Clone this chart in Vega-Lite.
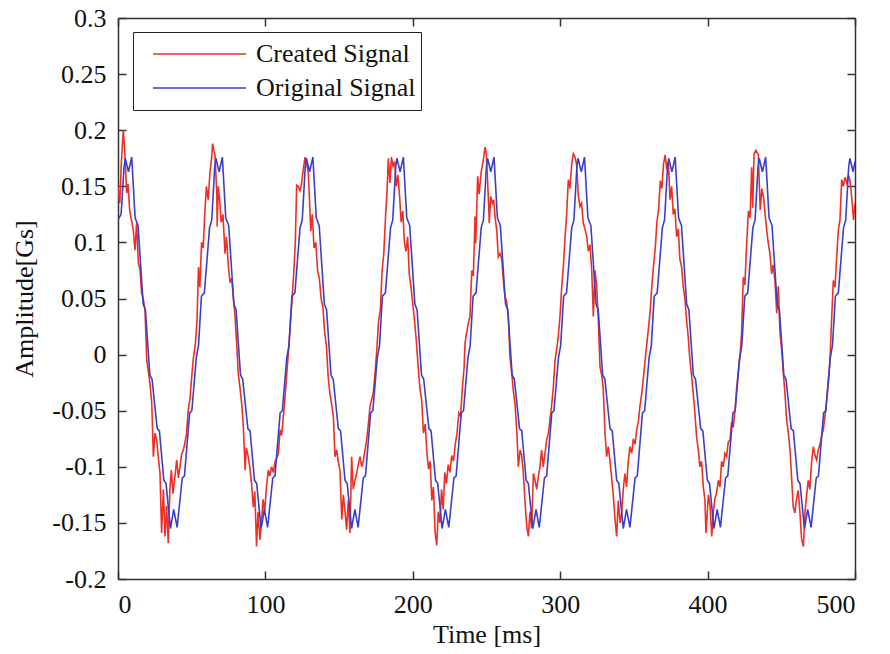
{
  "$schema": "https://vega.github.io/schema/vega-lite/v6.json",
  "autosize": "none",
  "padding": {"left": 118, "top": 18, "right": 35, "bottom": 75},
  "width": 737,
  "height": 561,
  "background": "white",
  "datasets": {
    "created": [
      {"t":0,"v":0.150},{"t":1.2,"v":0.135},{"t":2.3,"v":0.172},{"t":3.6,"v":0.200},{"t":4.7,"v":0.178},{"t":5.9,"v":0.144},{"t":6.8,"v":0.152},{"t":7.9,"v":0.129},{"t":9.1,"v":0.120},{"t":10.4,"v":0.111},{"t":11.5,"v":0.093},{"t":12.6,"v":0.117},{"t":13.8,"v":0.082},{"t":15.0,"v":0.075},{"t":16.0,"v":0.055},{"t":17.1,"v":0.050},{"t":18.3,"v":0.040},{"t":19.5,"v":-0.005},{"t":20.6,"v":-0.015},{"t":21.7,"v":-0.026},{"t":22.9,"v":-0.043},{"t":24.0,"v":-0.091},{"t":25.1,"v":-0.070},{"t":26.2,"v":-0.076},{"t":27.4,"v":-0.092},{"t":28.5,"v":-0.106},{"t":29.6,"v":-0.159},{"t":30.8,"v":-0.120},{"t":31.9,"v":-0.162},{"t":33.0,"v":-0.135},{"t":34.1,"v":-0.168},{"t":35.2,"v":-0.120},{"t":36.2,"v":-0.103},{"t":37.3,"v":-0.124},{"t":38.5,"v":-0.110},{"t":39.8,"v":-0.094},{"t":41.0,"v":-0.110},{"t":42.2,"v":-0.098},{"t":43.3,"v":-0.088},{"t":44.4,"v":-0.085},{"t":45.5,"v":-0.078},{"t":46.5,"v":-0.070},{"t":47.6,"v":-0.050},{"t":48.8,"v":-0.040},{"t":50.0,"v":-0.020},{"t":51.0,"v":-0.005},
      {"t":52.5,"v":0.010},{"t":53.6,"v":0.030},{"t":54.6,"v":0.078},{"t":55.5,"v":0.060},{"t":56.7,"v":0.100},{"t":57.8,"v":0.095},{"t":59.0,"v":0.129},{"t":60.0,"v":0.150},{"t":61.2,"v":0.138},{"t":62.4,"v":0.163},{"t":63.3,"v":0.172},{"t":64.2,"v":0.188},{"t":65.0,"v":0.182},{"t":65.8,"v":0.178},{"t":67.0,"v":0.144},{"t":67.3,"v":0.114},{"t":68.0,"v":0.150},{"t":68.8,"v":0.140},{"t":70.0,"v":0.118},{"t":71.2,"v":0.125},{"t":72.6,"v":0.090},{"t":73.6,"v":0.105},{"t":74.8,"v":0.080},{"t":76.0,"v":0.064},{"t":77.2,"v":0.068},{"t":78.3,"v":0.050},{"t":79.4,"v":0.034},{"t":80.5,"v":0.010},{"t":81.6,"v":-0.017},{"t":82.8,"v":-0.030},{"t":84.0,"v":-0.045},{"t":85.0,"v":-0.064},{"t":86.3,"v":-0.103},{"t":87.0,"v":-0.083},{"t":88.2,"v":-0.090},{"t":89.4,"v":-0.100},{"t":90.6,"v":-0.115},{"t":91.8,"v":-0.136},{"t":92.8,"v":-0.122},{"t":94.0,"v":-0.171},{"t":95.0,"v":-0.140},{"t":96.3,"v":-0.165},{"t":97.3,"v":-0.150},{"t":98.4,"v":-0.129},{"t":99.5,"v":-0.140},{"t":100.7,"v":-0.118},{"t":102.0,"v":-0.103},{"t":103.0,"v":-0.108},{"t":104.2,"v":-0.100},{"t":105.4,"v":-0.105},{"t":106.6,"v":-0.095},{"t":107.8,"v":-0.092},{"t":108.8,"v":-0.088},{"t":110.0,"v":-0.067},{"t":111.0,"v":-0.072},{"t":112.0,"v":-0.058},{"t":113.2,"v":-0.040},{"t":114.5,"v":-0.017},
      {"t":115.6,"v":0.002},{"t":116.8,"v":0.025},{"t":118.0,"v":0.048},{"t":119.2,"v":0.072},{"t":120.3,"v":0.100},{"t":121.2,"v":0.151},{"t":122.3,"v":0.150},{"t":123.4,"v":0.146},{"t":124.5,"v":0.152},{"t":125.7,"v":0.165},{"t":126.9,"v":0.176},{"t":128.0,"v":0.170},{"t":129.1,"v":0.162},{"t":130.0,"v":0.135},{"t":130.8,"v":0.110},{"t":131.8,"v":0.125},{"t":133.0,"v":0.095},{"t":134.2,"v":0.100},{"t":135.4,"v":0.075},{"t":136.6,"v":0.068},{"t":137.8,"v":0.050},{"t":139.0,"v":0.042},{"t":140.2,"v":0.020},{"t":141.4,"v":0.008},{"t":142.6,"v":-0.020},{"t":143.8,"v":-0.035},{"t":145.0,"v":-0.045},{"t":146.1,"v":-0.055},{"t":147.2,"v":-0.091},{"t":148.4,"v":-0.085},{"t":149.5,"v":-0.096},{"t":150.6,"v":-0.103},{"t":151.8,"v":-0.147},{"t":152.9,"v":-0.125},{"t":154.0,"v":-0.140},{"t":155.1,"v":-0.156},{"t":156.2,"v":-0.130},{"t":157.4,"v":-0.159},{"t":158.5,"v":-0.091},{"t":159.6,"v":-0.120},{"t":160.8,"v":-0.112},{"t":161.9,"v":-0.106},{"t":163.0,"v":-0.098},{"t":164.2,"v":-0.091},{"t":165.3,"v":-0.100},{"t":166.4,"v":-0.095},{"t":167.6,"v":-0.085},{"t":168.7,"v":-0.076},{"t":170.0,"v":-0.060},{"t":171.0,"v":-0.046},{"t":172.1,"v":-0.040},{"t":173.2,"v":-0.034},{"t":174.5,"v":-0.015},
      {"t":175.6,"v":0.005},{"t":176.8,"v":0.030},{"t":178.0,"v":0.040},{"t":179.2,"v":0.075},{"t":180.3,"v":0.090},{"t":181.4,"v":0.120},{"t":182.5,"v":0.145},{"t":183.4,"v":0.175},{"t":184.5,"v":0.153},{"t":185.5,"v":0.176},{"t":186.6,"v":0.168},{"t":187.7,"v":0.172},{"t":188.8,"v":0.150},{"t":189.9,"v":0.160},{"t":191.0,"v":0.142},{"t":192.1,"v":0.118},{"t":193.2,"v":0.128},{"t":194.3,"v":0.100},{"t":195.4,"v":0.092},{"t":196.5,"v":0.105},{"t":197.6,"v":0.072},{"t":198.8,"v":0.060},{"t":200.0,"v":0.045},{"t":201.2,"v":0.030},{"t":202.4,"v":0.012},{"t":203.6,"v":-0.010},{"t":204.8,"v":-0.030},{"t":206.0,"v":-0.040},{"t":207.2,"v":-0.070},{"t":208.4,"v":-0.062},{"t":209.6,"v":-0.088},{"t":210.7,"v":-0.102},{"t":211.8,"v":-0.095},{"t":212.9,"v":-0.130},{"t":214.0,"v":-0.118},{"t":215.1,"v":-0.158},{"t":216.2,"v":-0.170},{"t":217.3,"v":-0.140},{"t":218.4,"v":-0.150},{"t":219.5,"v":-0.120},{"t":220.6,"v":-0.138},{"t":221.7,"v":-0.105},{"t":222.8,"v":-0.115},{"t":224.0,"v":-0.098},{"t":225.2,"v":-0.105},{"t":226.4,"v":-0.090},{"t":227.6,"v":-0.095},{"t":228.8,"v":-0.080},{"t":230.0,"v":-0.070},{"t":231.2,"v":-0.052},{"t":232.4,"v":-0.055},{"t":233.6,"v":-0.030},{"t":234.8,"v":-0.012},
      {"t":235.4,"v":0.010},{"t":236.6,"v":0.020},{"t":237.7,"v":0.028},{"t":238.8,"v":0.034},{"t":240.0,"v":0.075},{"t":241.1,"v":0.070},{"t":242.2,"v":0.123},{"t":242.7,"v":0.099},{"t":243.3,"v":0.126},{"t":244.0,"v":0.159},{"t":245.0,"v":0.143},{"t":246.3,"v":0.162},{"t":247.8,"v":0.173},{"t":249.0,"v":0.185},{"t":249.9,"v":0.179},{"t":251.2,"v":0.141},{"t":251.9,"v":0.117},{"t":252.8,"v":0.141},{"t":254.0,"v":0.135},{"t":254.9,"v":0.138},{"t":255.8,"v":0.123},{"t":257.0,"v":0.110},{"t":258.0,"v":0.087},{"t":259.2,"v":0.090},{"t":260.4,"v":0.085},{"t":261.5,"v":0.065},{"t":262.5,"v":0.052},{"t":263.6,"v":0.048},{"t":264.8,"v":0.034},{"t":265.9,"v":-0.002},{"t":267.0,"v":-0.015},{"t":268.2,"v":-0.032},{"t":269.4,"v":-0.045},{"t":270.5,"v":-0.067},{"t":271.6,"v":-0.100},{"t":272.8,"v":-0.085},{"t":273.9,"v":-0.090},{"t":275.0,"v":-0.106},{"t":276.1,"v":-0.130},{"t":277.3,"v":-0.153},{"t":278.4,"v":-0.162},{"t":279.5,"v":-0.140},{"t":280.6,"v":-0.155},{"t":281.8,"v":-0.106},{"t":282.9,"v":-0.112},{"t":284.1,"v":-0.120},{"t":285.2,"v":-0.108},{"t":286.3,"v":-0.100},{"t":287.4,"v":-0.085},{"t":288.5,"v":-0.100},{"t":289.7,"v":-0.088},{"t":290.8,"v":-0.076},{"t":292.0,"v":-0.070},{"t":293.1,"v":-0.058},{"t":294.2,"v":-0.045},{"t":295.3,"v":-0.030},{"t":296.5,"v":-0.005},
      {"t":297.6,"v":0.005},{"t":298.7,"v":0.016},{"t":299.9,"v":0.035},{"t":301.0,"v":0.060},{"t":302.2,"v":0.080},{"t":303.3,"v":0.105},{"t":304.4,"v":0.125},{"t":305.5,"v":0.156},{"t":306.6,"v":0.148},{"t":307.8,"v":0.170},{"t":308.9,"v":0.179},{"t":310.0,"v":0.176},{"t":311.1,"v":0.170},{"t":312.3,"v":0.141},{"t":313.4,"v":0.132},{"t":314.5,"v":0.135},{"t":315.7,"v":0.117},{"t":316.8,"v":0.112},{"t":318.0,"v":0.105},{"t":319.1,"v":0.092},{"t":320.2,"v":0.098},{"t":321.4,"v":0.075},{"t":322.5,"v":0.034},{"t":323.6,"v":0.075},{"t":324.7,"v":0.062},{"t":325.9,"v":0.030},{"t":327.0,"v":-0.011},{"t":328.1,"v":-0.018},{"t":329.2,"v":-0.030},{"t":330.4,"v":-0.070},{"t":331.5,"v":-0.091},{"t":332.6,"v":-0.082},{"t":333.8,"v":-0.095},{"t":334.9,"v":-0.110},{"t":336.0,"v":-0.125},{"t":337.2,"v":-0.147},{"t":338.3,"v":-0.162},{"t":339.4,"v":-0.130},{"t":340.6,"v":-0.150},{"t":341.7,"v":-0.141},{"t":342.8,"v":-0.120},{"t":343.9,"v":-0.106},{"t":345.0,"v":-0.118},{"t":346.2,"v":-0.095},{"t":347.3,"v":-0.082},{"t":348.5,"v":-0.088},{"t":349.6,"v":-0.075},{"t":350.8,"v":-0.080},{"t":351.9,"v":-0.067},{"t":353.0,"v":-0.060},{"t":354.2,"v":-0.045},{"t":355.3,"v":-0.035},{"t":356.5,"v":-0.020},{"t":357.6,"v":-0.005},
      {"t":358.8,"v":0.010},{"t":360.0,"v":0.025},{"t":361.1,"v":0.040},{"t":362.2,"v":0.062},{"t":363.4,"v":0.080},{"t":364.5,"v":0.095},{"t":365.6,"v":0.118},{"t":366.8,"v":0.130},{"t":367.9,"v":0.155},{"t":369.0,"v":0.148},{"t":370.1,"v":0.170},{"t":371.2,"v":0.178},{"t":372.3,"v":0.165},{"t":373.4,"v":0.172},{"t":374.5,"v":0.138},{"t":375.6,"v":0.150},{"t":376.7,"v":0.125},{"t":377.8,"v":0.130},{"t":379.0,"v":0.105},{"t":380.1,"v":0.112},{"t":381.2,"v":0.085},{"t":382.4,"v":0.078},{"t":383.5,"v":0.060},{"t":384.6,"v":0.050},{"t":385.8,"v":0.030},{"t":386.9,"v":0.015},{"t":388.0,"v":-0.005},{"t":389.2,"v":-0.020},{"t":390.3,"v":-0.035},{"t":391.4,"v":-0.052},{"t":392.5,"v":-0.073},{"t":393.7,"v":-0.085},{"t":394.8,"v":-0.100},{"t":395.9,"v":-0.095},{"t":397.1,"v":-0.118},{"t":398.2,"v":-0.130},{"t":398.9,"v":-0.159},{"t":399.4,"v":-0.150},{"t":400.5,"v":-0.125},{"t":401.7,"v":-0.135},{"t":402.8,"v":-0.162},{"t":403.9,"v":-0.140},{"t":405.0,"v":-0.128},{"t":406.0,"v":-0.124},{"t":407.3,"v":-0.112},{"t":408.4,"v":-0.118},{"t":409.5,"v":-0.095},{"t":410.6,"v":-0.100},{"t":411.7,"v":-0.088},{"t":412.9,"v":-0.091},{"t":414.0,"v":-0.078},{"t":415.2,"v":-0.076},{"t":416.3,"v":-0.060},{"t":417.4,"v":-0.065},{"t":418.6,"v":-0.050},{"t":419.7,"v":-0.030},{"t":420.8,"v":-0.015},
      {"t":422.0,"v":-0.002},{"t":423.1,"v":0.020},{"t":424.2,"v":0.069},{"t":425.3,"v":0.062},{"t":426.5,"v":0.099},{"t":427.7,"v":0.128},{"t":428.8,"v":0.122},{"t":429.9,"v":0.167},{"t":430.6,"v":0.131},{"t":431.5,"v":0.179},{"t":432.8,"v":0.182},{"t":434.4,"v":0.178},{"t":435.7,"v":0.129},{"t":436.8,"v":0.148},{"t":438.0,"v":0.140},{"t":439.0,"v":0.125},{"t":440.1,"v":0.111},{"t":441.2,"v":0.099},{"t":442.3,"v":0.090},{"t":443.4,"v":0.072},{"t":444.5,"v":0.080},{"t":445.7,"v":0.066},{"t":446.9,"v":0.037},{"t":448.0,"v":0.061},{"t":449.1,"v":0.020},{"t":450.2,"v":0.005},{"t":451.3,"v":-0.015},{"t":452.5,"v":-0.035},{"t":453.6,"v":-0.058},{"t":454.8,"v":-0.070},{"t":455.9,"v":-0.085},{"t":457.0,"v":-0.110},{"t":458.1,"v":-0.136},{"t":459.2,"v":-0.141},{"t":460.4,"v":-0.128},{"t":461.5,"v":-0.121},{"t":462.6,"v":-0.140},{"t":463.8,"v":-0.165},{"t":465.0,"v":-0.171},{"t":466.1,"v":-0.140},{"t":467.2,"v":-0.125},{"t":468.3,"v":-0.112},{"t":469.4,"v":-0.120},{"t":470.6,"v":-0.095},{"t":471.7,"v":-0.082},{"t":472.9,"v":-0.090},{"t":474.0,"v":-0.094},{"t":475.1,"v":-0.085},{"t":476.3,"v":-0.080},{"t":477.4,"v":-0.072},{"t":478.5,"v":-0.067},{"t":479.6,"v":-0.055},{"t":480.8,"v":-0.040},{"t":481.9,"v":-0.025},{"t":483.0,"v":-0.005},
      {"t":484.1,"v":0.030},{"t":485.3,"v":0.066},{"t":486.4,"v":0.060},{"t":487.5,"v":0.085},{"t":488.7,"v":0.111},{"t":489.8,"v":0.120},{"t":491.0,"v":0.156},{"t":492.1,"v":0.150},{"t":493.2,"v":0.158},{"t":494.4,"v":0.153},{"t":495.5,"v":0.160},{"t":496.6,"v":0.155},{"t":497.8,"v":0.140},{"t":499.0,"v":0.120},{"t":500.0,"v":0.135}
    ],
    "original": [
      {"t":0,"v":0.120},{"t":2.1,"v":0.125},{"t":4.1,"v":0.167},{"t":4.9,"v":0.175},{"t":7.1,"v":0.163},{"t":9.3,"v":0.176},{"t":11.6,"v":0.122},{"t":13.6,"v":0.115},{"t":17.1,"v":0.045},{"t":18.6,"v":0.040},{"t":21.6,"v":-0.018},{"t":23.1,"v":-0.022},{"t":26.6,"v":-0.066},{"t":28.1,"v":-0.068},{"t":31.1,"v":-0.112},{"t":32.6,"v":-0.115},{"t":35.6,"v":-0.155},{"t":37.8,"v":-0.138},
      {"t":40.1,"v":-0.154},{"t":43.6,"v":-0.110},{"t":45.1,"v":-0.108},{"t":48.6,"v":-0.052},{"t":50.1,"v":-0.050},{"t":53.1,"v":-0.003},{"t":54.6,"v":0.008},{"t":56.6,"v":0.052},{"t":58.6,"v":0.055},{"t":62.1,"v":0.113},{"t":63.6,"v":0.120},{"t":65.6,"v":0.167},{"t":66.4,"v":0.175},{"t":68.6,"v":0.163},{"t":70.8,"v":0.176},{"t":73.1,"v":0.122},{"t":75.1,"v":0.115},{"t":78.6,"v":0.045},{"t":80.1,"v":0.040},{"t":83.1,"v":-0.018},{"t":84.6,"v":-0.022},{"t":88.1,"v":-0.066},{"t":89.6,"v":-0.068},{"t":92.6,"v":-0.112},{"t":94.1,"v":-0.115},{"t":97.1,"v":-0.155},{"t":99.3,"v":-0.138},
      {"t":101.5,"v":-0.154},{"t":105.0,"v":-0.110},{"t":106.5,"v":-0.108},{"t":110.0,"v":-0.052},{"t":111.5,"v":-0.050},{"t":114.5,"v":-0.003},{"t":116.0,"v":0.008},{"t":118.0,"v":0.052},{"t":120.0,"v":0.055},{"t":123.5,"v":0.113},{"t":125.0,"v":0.120},{"t":127.0,"v":0.167},{"t":127.8,"v":0.175},{"t":130.0,"v":0.163},{"t":132.2,"v":0.176},{"t":134.5,"v":0.122},{"t":136.5,"v":0.115},{"t":140.0,"v":0.045},{"t":141.5,"v":0.040},{"t":144.5,"v":-0.018},{"t":146.0,"v":-0.022},{"t":149.5,"v":-0.066},{"t":151.0,"v":-0.068},{"t":154.0,"v":-0.112},{"t":155.5,"v":-0.115},{"t":158.5,"v":-0.155},{"t":160.7,"v":-0.138},
      {"t":162.9,"v":-0.154},{"t":166.4,"v":-0.110},{"t":167.9,"v":-0.108},{"t":171.4,"v":-0.052},{"t":172.9,"v":-0.050},{"t":175.9,"v":-0.003},{"t":177.4,"v":0.008},{"t":179.4,"v":0.052},{"t":181.4,"v":0.055},{"t":184.9,"v":0.113},{"t":186.4,"v":0.120},{"t":188.4,"v":0.167},{"t":189.2,"v":0.175},{"t":191.4,"v":0.163},{"t":193.6,"v":0.176},{"t":195.9,"v":0.122},{"t":197.9,"v":0.115},{"t":201.4,"v":0.045},{"t":202.9,"v":0.040},{"t":205.9,"v":-0.018},{"t":207.4,"v":-0.022},{"t":210.9,"v":-0.066},{"t":212.4,"v":-0.068},{"t":215.4,"v":-0.112},{"t":216.9,"v":-0.115},{"t":219.9,"v":-0.155},{"t":222.1,"v":-0.138},
      {"t":224.4,"v":-0.154},{"t":227.9,"v":-0.110},{"t":229.4,"v":-0.108},{"t":232.9,"v":-0.052},{"t":234.4,"v":-0.050},{"t":237.4,"v":-0.003},{"t":238.9,"v":0.008},{"t":240.9,"v":0.052},{"t":242.9,"v":0.055},{"t":246.4,"v":0.113},{"t":247.9,"v":0.120},{"t":249.9,"v":0.167},{"t":250.7,"v":0.175},{"t":252.9,"v":0.163},{"t":255.1,"v":0.176},{"t":257.4,"v":0.122},{"t":259.4,"v":0.115},{"t":262.9,"v":0.045},{"t":264.4,"v":0.040},{"t":267.4,"v":-0.018},{"t":268.9,"v":-0.022},{"t":272.4,"v":-0.066},{"t":273.9,"v":-0.068},{"t":276.9,"v":-0.112},{"t":278.4,"v":-0.115},{"t":281.4,"v":-0.155},{"t":283.6,"v":-0.138},
      {"t":285.8,"v":-0.154},{"t":289.3,"v":-0.110},{"t":290.8,"v":-0.108},{"t":294.3,"v":-0.052},{"t":295.8,"v":-0.050},{"t":298.8,"v":-0.003},{"t":300.3,"v":0.008},{"t":302.3,"v":0.052},{"t":304.3,"v":0.055},{"t":307.8,"v":0.113},{"t":309.3,"v":0.120},{"t":311.3,"v":0.167},{"t":312.1,"v":0.175},{"t":314.3,"v":0.163},{"t":316.5,"v":0.176},{"t":318.8,"v":0.122},{"t":320.8,"v":0.115},{"t":324.3,"v":0.045},{"t":325.8,"v":0.040},{"t":328.8,"v":-0.018},{"t":330.3,"v":-0.022},{"t":333.8,"v":-0.066},{"t":335.3,"v":-0.068},{"t":338.3,"v":-0.112},{"t":339.8,"v":-0.115},{"t":342.8,"v":-0.155},{"t":345.0,"v":-0.138},
      {"t":347.3,"v":-0.154},{"t":350.8,"v":-0.110},{"t":352.3,"v":-0.108},{"t":355.8,"v":-0.052},{"t":357.3,"v":-0.050},{"t":360.3,"v":-0.003},{"t":361.8,"v":0.008},{"t":363.8,"v":0.052},{"t":365.8,"v":0.055},{"t":369.3,"v":0.113},{"t":370.8,"v":0.120},{"t":372.8,"v":0.167},{"t":373.6,"v":0.175},{"t":375.8,"v":0.163},{"t":378.0,"v":0.176},{"t":380.3,"v":0.122},{"t":382.3,"v":0.115},{"t":385.8,"v":0.045},{"t":387.3,"v":0.040},{"t":390.3,"v":-0.018},{"t":391.8,"v":-0.022},{"t":395.3,"v":-0.066},{"t":396.8,"v":-0.068},{"t":399.8,"v":-0.112},{"t":401.3,"v":-0.115},{"t":404.3,"v":-0.155},{"t":406.5,"v":-0.138},
      {"t":408.7,"v":-0.154},{"t":412.2,"v":-0.110},{"t":413.7,"v":-0.108},{"t":417.2,"v":-0.052},{"t":418.7,"v":-0.050},{"t":421.7,"v":-0.003},{"t":423.2,"v":0.008},{"t":425.2,"v":0.052},{"t":427.2,"v":0.055},{"t":430.7,"v":0.113},{"t":432.2,"v":0.120},{"t":434.2,"v":0.167},{"t":435.0,"v":0.175},{"t":437.2,"v":0.163},{"t":439.4,"v":0.176},{"t":441.7,"v":0.122},{"t":443.7,"v":0.115},{"t":447.2,"v":0.045},{"t":448.7,"v":0.040},{"t":451.7,"v":-0.018},{"t":453.2,"v":-0.022},{"t":456.7,"v":-0.066},{"t":458.2,"v":-0.068},{"t":461.2,"v":-0.112},{"t":462.7,"v":-0.115},{"t":465.7,"v":-0.155},{"t":467.9,"v":-0.138},
      {"t":470.2,"v":-0.154},{"t":473.7,"v":-0.110},{"t":475.2,"v":-0.108},{"t":478.7,"v":-0.052},{"t":480.2,"v":-0.050},{"t":483.2,"v":-0.003},{"t":484.7,"v":0.008},{"t":486.7,"v":0.052},{"t":488.7,"v":0.055},{"t":492.2,"v":0.113},{"t":493.7,"v":0.120},{"t":495.7,"v":0.167},{"t":496.5,"v":0.175},{"t":498.7,"v":0.163},{"t":500.0,"v":0.172}
    ]
  },
  "config": {
    "view": {"stroke": null},
    "axis": {
      "grid": false,
      "domainColor": "#333333",
      "domainWidth": 1.5,
      "tickColor": "#333333",
      "tickWidth": 1.5,
      "labelFont": "Liberation Serif",
      "labelFontSize": 26,
      "labelColor": "#111111",
      "titleFont": "Liberation Serif",
      "titleFontSize": 26,
      "titleFontWeight": "normal",
      "titleColor": "#111111"
    }
  },
  "resolve": {"axis": {"x": "independent", "y": "independent"}},
  "layer": [
    {
      "data": {"name": "created"},
      "mark": {"type": "line", "strokeWidth": 1.6, "clip": true},
      "encoding": {
        "x": {"field": "t", "type": "quantitative",
          "scale": {"domain": [0, 500], "nice": false, "zero": false},
          "axis": {"orient": "bottom", "title": "Time [ms]", "values": [0,100,200,300,400,500], "format": "d", "tickSize": -8, "labelPadding": 20, "titlePadding": 4}},
        "y": {"field": "v", "type": "quantitative",
          "scale": {"domain": [-0.2, 0.3], "nice": false, "zero": false},
          "axis": {"orient": "left", "title": "Amplitude[Gs]", "values": [-0.2,-0.15,-0.1,-0.05,0,0.05,0.1,0.15,0.2,0.25,0.3], "labelExpr": "replace(format(datum.value, '.2~f'), '\u2212', '-')", "tickSize": -8, "labelPadding": 20, "titlePadding": 14}},
        "color": {"datum": "Created Signal", "type": "nominal",
          "scale": {"domain": ["Created Signal", "Original Signal"], "range": ["#ec3026", "#3b3fc8"]},
          "legend": {"orient": "none", "legendX": 15, "legendY": 14, "title": null, "symbolType": "stroke", "symbolSize": 8649, "symbolStrokeWidth": 1.6, "clipHeight": 34, "rowPadding": 0, "labelFont": "Liberation Serif", "labelFontSize": 26, "labelColor": "#111111", "labelOffset": 9, "padding": 5, "strokeColor": "#222222", "fillColor": "white", "symbolOffset": 14}}
      }
    },
    {
      "data": {"name": "original"},
      "mark": {"type": "line", "strokeWidth": 1.6, "clip": true},
      "encoding": {
        "x": {"field": "t", "type": "quantitative",
          "axis": {"orient": "top", "title": null, "labels": false, "values": [0,100,200,300,400,500], "tickSize": -8}},
        "y": {"field": "v", "type": "quantitative",
          "axis": {"orient": "right", "title": null, "labels": false, "values": [-0.2,-0.15,-0.1,-0.05,0,0.05,0.1,0.15,0.2,0.25,0.3], "tickSize": -8}},
        "color": {"datum": "Original Signal", "type": "nominal"}
      }
    }
  ]
}
